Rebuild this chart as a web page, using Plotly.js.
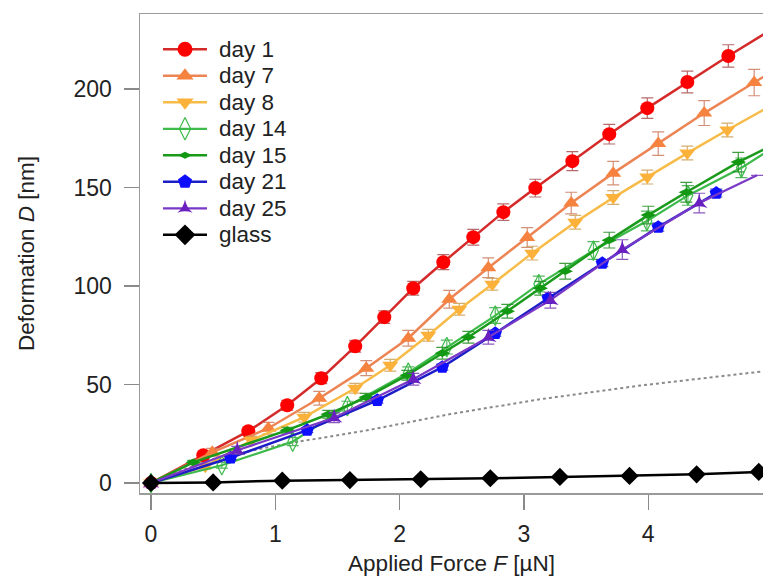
<!DOCTYPE html>
<html>
<head>
<meta charset="utf-8">
<script src="https://cdn.plot.ly/plotly-3.0.1.min.js"></script>
<style>html,body{margin:0;padding:0;background:#fff;}#chart{width:763px;height:576px;}</style>
</head>
<body>
<div id="chart"></div>
<script>
// ---- data ----
var day1F = [0, 0.421, 0.783, 1.096, 1.370, 1.643, 1.877, 2.110, 2.352, 2.593, 2.835, 3.092, 3.390, 3.687, 3.993, 4.315, 4.645, 5.0];
var day1D = [0, 14.1, 26.3, 39.5, 53.2, 69.4, 84.2, 98.9, 112.1, 124.8, 137.5, 149.7, 163.4, 177.1, 190.3, 203.6, 216.8, 230.5];
var day1E = [0, 1.5, 2, 2.5, 2.8, 3, 3.2, 3.5, 3.8, 4, 4.2, 4.5, 4.8, 5, 5.2, 5.5, 5.7, 0];

var day7F = [0, 0.493, 0.944, 1.354, 1.732, 2.070, 2.400, 2.714, 3.027, 3.381, 3.719, 4.081, 4.451, 4.853, 5.0];
var day7D = [0, 15.6, 27.8, 43.0, 58.3, 73.5, 93.3, 109.3, 124.6, 142.1, 157.3, 172.3, 187.8, 203.3, 209.0];
var day7E = [0, 2, 3, 3.5, 3.8, 4, 4.5, 5, 5, 5.5, 6, 6, 6.3, 6.7, 0];

var day8F = [0, 0.437, 0.807, 1.233, 1.643, 1.925, 2.231, 2.480, 2.746, 3.067, 3.413, 3.719, 3.993, 4.315, 4.637, 5.0];
var day8D = [0, 8.5, 21.7, 33.4, 48.1, 59.8, 75.0, 88.2, 100.9, 116.7, 132.4, 144.9, 155.3, 167.5, 179.2, 192.0];
var day8E = [0, 1.5, 2, 2.5, 2.5, 3, 3, 3, 3, 3.5, 3.5, 3.5, 3.5, 3.5, 3.5, 0];

var day14F = [0, 0.57, 1.14, 1.58, 2.07, 2.38, 2.77, 3.12, 3.56, 3.99, 4.32, 4.75, 5.0];
var day14D = [0, 9, 21, 39, 56, 69, 85, 101, 118, 133, 146, 160, 170];
var day14E = [0, 1.5, 2, 2.5, 3, 3.5, 4, 4, 4.5, 5, 5, 5, 0];

var day15F = [0, 0.340, 1.097, 1.426, 1.732, 2.062, 2.344, 2.553, 2.867, 3.132, 3.333, 3.687, 4.001, 4.307, 4.725, 5.0];
var day15D = [0, 10.5, 26.8, 34.9, 43.5, 54.7, 65.9, 74.0, 87.2, 98.9, 107.5, 123.3, 136.0, 147.6, 162.9, 171.5];
var day15E = [0, 1, 1.5, 2, 2, 2.5, 3, 3, 3.5, 3.5, 4, 4, 4.5, 5, 5, 0];

var day21F = [0, 0.640, 1.257, 1.821, 2.344, 2.770, 3.196, 3.631, 4.081, 4.548];
var day21D = [0, 12.8, 26.8, 42.0, 58.8, 76.0, 93.8, 111.6, 129.9, 147.2];
var day21E = [0, 1, 1.2, 1.5, 1.5, 1.5, 1.8, 1.8, 2, 2];

var day25F = [0, 0.694, 1.474, 2.110, 2.714, 3.213, 3.792, 4.411, 4.876];
var day25D = [0, 16.6, 33.1, 52.7, 74.0, 92.8, 118.5, 142.1, 156.2];
var day25E = [0, 2, 2.5, 3, 3.5, 4, 5, 5, 0];

var glassF = [0, 0.50, 1.056, 1.60, 2.17, 2.73, 3.29, 3.85, 4.39, 4.89];
var glassD = [0, 0.3, 1.2, 1.5, 1.9, 2.4, 3.1, 3.6, 4.4, 5.6];

var fitF = [0, 0.45, 0.90, 1.15, 1.72, 2.41, 3.13, 3.94, 4.93, 5.0];
var fitD = [0, 11.5, 17.6, 20.6, 26.5, 35.0, 42.5, 49.5, 56.7, 57.2];

var seriesNames = ['day 1', 'day 7', 'day 8', 'day 14', 'day 15', 'day 21', 'day 25', 'glass'];
var xTicks = [0, 1, 2, 3, 4];
var yTicks = [0, 50, 100, 150, 200];

// ---- styles ----
var styles = [
  {line: '#d42a2a', mark: '#ff0000', sym: 'circle', size: 14, lsize: 15, err: 'rgba(170,80,80,0.85)', lw: 2.5},
  {line: '#ec8454', mark: '#f6823f', sym: 'triangle-up', size: 14, lsize: 15, err: 'rgba(205,125,95,0.85)', lw: 2.5},
  {line: '#f7bb48', mark: '#fcb13a', sym: 'triangle-down', size: 14, lsize: 15, err: 'rgba(205,160,85,0.85)', lw: 2.5},
  {line: '#3dba4a', mark: '#3dba4a', sym: 'diamond-tall-open', size: 14, lsize: 16, err: 'rgba(60,170,70,0.85)', lw: 2.2},
  {line: '#1a9a1a', mark: '#139813', sym: 'diamond-wide', size: 11, lsize: 10, err: 'rgba(30,140,30,0.85)', lw: 2.5},
  {line: '#1e1ec8', mark: '#0d0dff', sym: 'pentagon', size: 14, lsize: 15, err: 'rgba(40,40,180,0.85)', lw: 2.5},
  {line: '#7a38c6', mark: '#6a1fc0', sym: 'star-triangle-up', size: 12, lsize: 11, err: 'rgba(120,60,180,0.85)', lw: 2.2},
  {line: '#000000', mark: '#000000', sym: 'diamond', size: 14, lsize: 16, err: null, lw: 2.5}
];
var seriesF = [day1F, day7F, day8F, day14F, day15F, day21F, day25F, glassF];
var seriesD = [day1D, day7D, day8D, day14D, day15D, day21D, day25D, glassD];
var seriesE = [day1E, day7E, day8E, day14E, day15E, day21E, day25E, null];
var lastHidden = [true, true, true, true, true, false, true, false];

function sizes(n, s, hideLast) {
  var a = [];
  for (var i = 0; i < n; i++) a.push(s);
  if (hideLast) a[n - 1] = 0;
  return a;
}

var traces = [];
// Hertz-type fit (dotted), beneath everything
traces.push({
  type: 'scatter', mode: 'lines', x: fitF, y: fitD, showlegend: false,
  line: {color: '#8a8a8a', width: 2, dash: 'dot'}, hoverinfo: 'skip'
});

for (var k = 0; k < seriesNames.length; k++) {
  var st = styles[k];
  var t = {
    type: 'scatter', mode: 'lines+markers', name: seriesNames[k],
    x: seriesF[k], y: seriesD[k], showlegend: false,
    line: {color: st.line, width: st.lw},
    marker: {color: st.mark, symbol: st.sym, size: sizes(seriesF[k].length, st.size, lastHidden[k]),
             opacity: 1, line: {width: st.sym.indexOf('open') >= 0 ? 1.2 : 0, color: st.mark}},
    cliponaxis: true
  };
  if (seriesE[k]) {
    t.error_y = {type: 'data', array: seriesE[k], visible: true, color: st.err, thickness: 1.2, width: 6};
  }
  traces.push(t);
}

// ---- custom legend (pixel-like overlay axes) ----
var legRow0 = 49.3, legGap = 26.5, legX0 = 163, legX1 = 207, legTextX = 217;
var annotations = [];
for (var j = 0; j < seriesNames.length; j++) {
  var sj = styles[j];
  var yy = legRow0 + j * legGap;
  var xm = (legX0 + legX1) / 2;
  traces.push({
    type: 'scatter', mode: 'lines+markers', xaxis: 'x2', yaxis: 'y2', showlegend: false,
    x: [legX0, xm, legX1], y: [yy, yy, yy], hoverinfo: 'skip',
    line: {color: sj.line, width: sj.lw},
    marker: {color: sj.mark, symbol: sj.sym, size: [0, sj.lsize, 0], opacity: 1,
             line: {width: sj.sym.indexOf('open') >= 0 ? 1.2 : 0, color: sj.mark}}
  });
  annotations.push({
    xref: 'x2', yref: 'y2', x: legTextX, y: yy, xanchor: 'left', yanchor: 'middle',
    text: seriesNames[j], showarrow: false,
    font: {family: 'Arial, "Liberation Sans", sans-serif', size: 22.5, color: '#222222'}
  });
}

var fontFam = 'Arial, "Liberation Sans", Helvetica, sans-serif';
var layout = {
  width: 763, height: 576,
  margin: {l: 140, r: 0, t: 14, b: 83, pad: 0},
  paper_bgcolor: '#ffffff', plot_bgcolor: '#ffffff',
  font: {family: fontFam, size: 22, color: '#222222'},
  showlegend: false,
  annotations: annotations,
  xaxis: {
    range: [-0.0885, 4.924], tickvals: xTicks, ticktext: xTicks.map(String),
    showgrid: false, zeroline: false, showline: true, linecolor: '#9a9a9a', linewidth: 1.5,
    mirror: true, ticks: 'outside', ticklen: 15, tickwidth: 1.3, tickcolor: '#8a8a8a',
    tickfont: {family: fontFam, size: 23, color: '#222222'},
    ticklabelstandoff: 5,
    title: {text: 'Applied Force <i>F</i> [µN]', font: {family: fontFam, size: 22.5, color: '#222222'}, standoff: 14},
    automargin: false
  },
  yaxis: {
    range: [-5.08, 238.1], tickvals: yTicks, ticktext: yTicks.map(String),
    showgrid: false, zeroline: false, showline: true, linecolor: '#9a9a9a', linewidth: 1.5,
    mirror: false, ticks: 'outside', ticklen: 15, tickwidth: 1.3, tickcolor: '#8a8a8a',
    tickfont: {family: fontFam, size: 23, color: '#222222'},
    ticklabelstandoff: 7,
    title: {text: 'Deformation <i>D</i> [nm]', font: {family: fontFam, size: 22.5, color: '#222222'}, standoff: 32},
    automargin: false
  },
  xaxis2: {overlaying: 'x', anchor: 'y2', range: [140, 763], visible: false, fixedrange: true},
  yaxis2: {overlaying: 'y', anchor: 'x2', range: [493, 14], visible: false, fixedrange: true}
};

Plotly.newPlot('chart', traces, layout, {displayModeBar: false, staticPlot: true});
</script>
</body>
</html>
